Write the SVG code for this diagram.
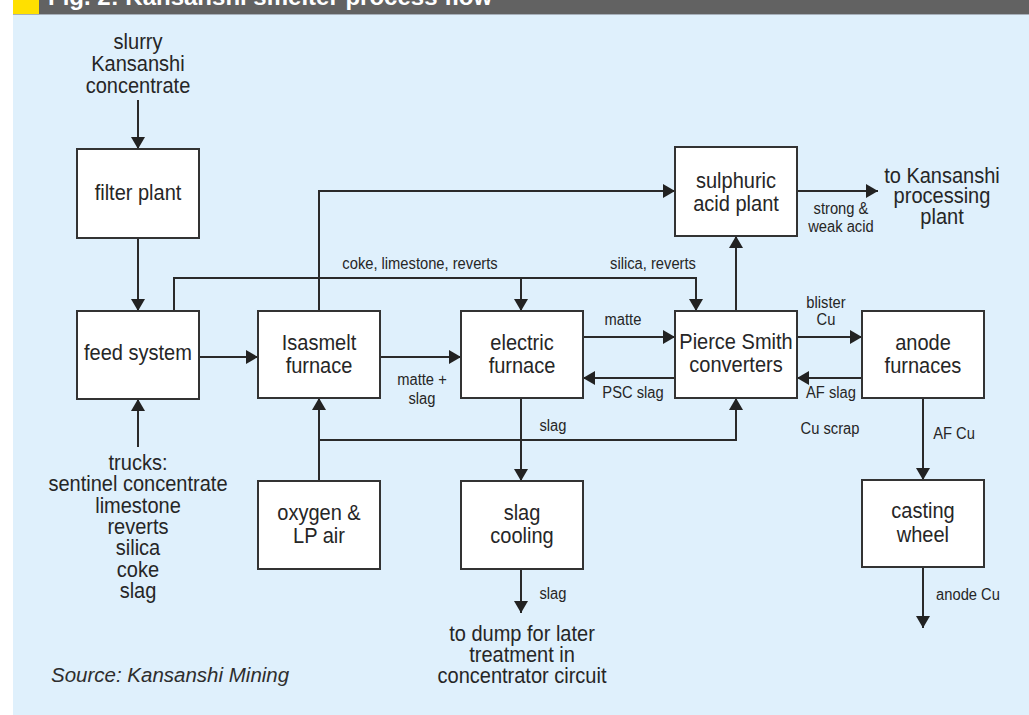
<svg xmlns="http://www.w3.org/2000/svg" width="1029" height="715" viewBox="0 0 1029 715">
<defs>
<marker id="ah" markerUnits="userSpaceOnUse" markerWidth="13" markerHeight="14" refX="12" refY="7" orient="auto">
<path d="M0,0 L12,7 L0,14 z" fill="#222"/>
</marker>
<style>
.box{fill:#fff;stroke:#333;stroke-width:2}
.ln{fill:none;stroke:#2a2a2a;stroke-width:2;marker-end:url(#ah)}
.t{font-family:"Liberation Sans",sans-serif;font-size:22px;fill:#262626;text-anchor:middle;transform-box:fill-box;transform-origin:center;transform:scaleX(0.91)}
.s{font-family:"Liberation Sans",sans-serif;font-size:16px;fill:#262626;text-anchor:middle;transform-box:fill-box;transform-origin:center;transform:scaleX(0.92)}
</style>
</defs>
<rect x="0" y="0" width="1029" height="715" fill="#fff"/>
<rect x="13" y="15" width="1016" height="700" fill="#dff0fc"/>
<rect x="13" y="0" width="1016" height="14" fill="#626262"/>
<rect x="13" y="14" width="1016" height="1" fill="#a7b0ba"/>
<rect x="13" y="0" width="26" height="14" fill="#ffe000"/>
<text x="48" y="5" font-family="Liberation Sans, sans-serif" font-size="24" font-weight="bold" fill="#fff">Fig. 2: Kansanshi smelter process flow</text>

<g id="connectors">
<path class="ln" d="M138,100 V149"/>
<path class="ln" d="M138,238 V311"/>
<path class="ln" d="M138,447 V399"/>
<path class="ln" d="M199,357 H258"/>
<path class="ln" d="M174,311 V278 H696 V311"/>
<path class="ln" d="M521,278 V311"/>
<path class="ln" d="M319,311 V191 H675"/>
<path class="ln" d="M380,357 H461"/>
<path class="ln" d="M583,337 H675"/>
<path class="ln" d="M675,378 H583"/>
<path class="ln" d="M797,337 H862"/>
<path class="ln" d="M862,378 H797"/>
<path class="ln" d="M319,481 V398"/>
<path class="ln" d="M319,440 H736 V398"/>
<path class="ln" d="M521,398 V481"/>
<path class="ln" d="M736,311 V236"/>
<path class="ln" d="M797,191 H878"/>
<path class="ln" d="M923,398 V480"/>
<path class="ln" d="M923,567 V628"/>
<path class="ln" d="M521,569 V613"/>
</g>

<g id="labels">
<text class="t" x="138" y="49">slurry</text>
<text class="t" x="138" y="71">Kansanshi</text>
<text class="t" x="138" y="93">concentrate</text>
<text class="t" x="138" y="470">trucks:</text>
<text class="t" x="138" y="491">sentinel concentrate</text>
<text class="t" x="138" y="513">limestone</text>
<text class="t" x="138" y="534">reverts</text>
<text class="t" x="138" y="555">silica</text>
<text class="t" x="138" y="577">coke</text>
<text class="t" x="138" y="598">slag</text>
<text class="s" x="420" y="269">coke, limestone, reverts</text>
<text class="s" x="653" y="269">silica, reverts</text>
<text class="s" x="422" y="385">matte +</text>
<text class="s" x="422" y="404">slag</text>
<text class="s" x="623" y="325">matte</text>
<text class="s" x="633" y="398">PSC slag</text>
<text class="s" x="826" y="308">blister</text>
<text class="s" x="826" y="325">Cu</text>
<text class="s" x="831" y="398">AF slag</text>
<text class="s" x="830" y="434">Cu scrap</text>
<text class="s" x="553" y="431">slag</text>
<text class="s" x="841" y="214">strong &amp;</text>
<text class="s" x="841" y="232">weak acid</text>
<text class="t" x="942" y="183">to Kansanshi</text>
<text class="t" x="942" y="203">processing</text>
<text class="t" x="942" y="224">plant</text>
<text class="s" x="954" y="439">AF Cu</text>
<text class="s" x="968" y="600">anode Cu</text>
<text class="s" x="553" y="599">slag</text>
<text class="t" x="522" y="641">to dump for later</text>
<text class="t" x="522" y="662">treatment in</text>
<text class="t" x="522" y="683">concentrator circuit</text>
<text x="51" y="682" font-family="Liberation Sans, sans-serif" font-size="20.5" font-style="italic" fill="#2e2e2e">Source: Kansanshi Mining</text>
</g>

<g id="filter-plant"><rect class="box" x="77" y="149" width="122" height="89"/><text class="t" x="138" y="200">filter plant</text></g>
<g id="feed-system"><rect class="box" x="77" y="311" width="122" height="88"/><text class="t" x="138" y="360">feed system</text></g>
<g id="isasmelt-furnace"><rect class="box" x="258" y="311" width="122" height="87"/><text class="t" x="319" y="350">Isasmelt</text><text class="t" x="319" y="373">furnace</text></g>
<g id="electric-furnace"><rect class="box" x="461" y="311" width="122" height="87"/><text class="t" x="522" y="350">electric</text><text class="t" x="522" y="373">furnace</text></g>
<g id="pierce-smith"><rect class="box" x="675" y="311" width="122" height="87"/><text class="t" x="736" y="349">Pierce Smith</text><text class="t" x="736" y="372">converters</text></g>
<g id="anode-furnaces"><rect class="box" x="862" y="311" width="122" height="87"/><text class="t" x="923" y="350">anode</text><text class="t" x="923" y="373">furnaces</text></g>
<g id="sulphuric-acid-plant"><rect class="box" x="675" y="147" width="122" height="89"/><text class="t" x="736" y="188">sulphuric</text><text class="t" x="736" y="211">acid plant</text></g>
<g id="oxygen-lp-air"><rect class="box" x="258" y="481" width="122" height="88"/><text class="t" x="319" y="520">oxygen &amp;</text><text class="t" x="319" y="543">LP air</text></g>
<g id="slag-cooling"><rect class="box" x="461" y="481" width="122" height="88"/><text class="t" x="522" y="520">slag</text><text class="t" x="522" y="543">cooling</text></g>
<g id="casting-wheel"><rect class="box" x="862" y="480" width="122" height="87"/><text class="t" x="923" y="518">casting</text><text class="t" x="923" y="542">wheel</text></g>
</svg>
